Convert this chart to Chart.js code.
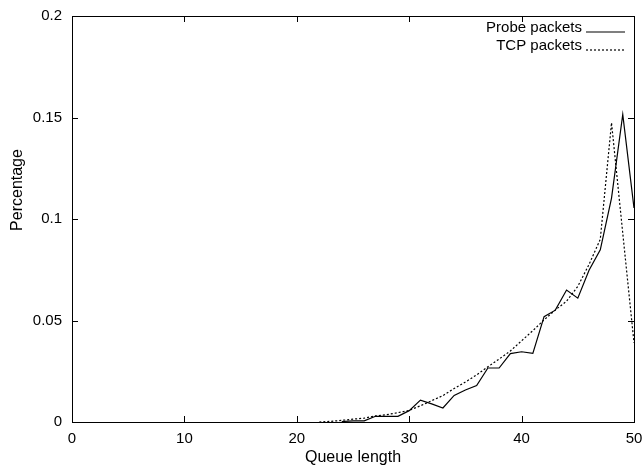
<!DOCTYPE html>
<html>
<head>
<meta charset="utf-8">
<script src="https://cdn.jsdelivr.net/npm/chart.js@4/dist/chart.umd.min.js"></script>
<style>
  html, body { margin: 0; padding: 0; background: #fff; }
  canvas { display: block; }
</style>
</head>
<body>
<canvas id="queue" width="643" height="467"></canvas>
<script>
// queue occupancy seen by each packet type
const queueLen = [22, 23, 24, 25, 26, 27, 28, 29, 30, 31, 32, 33, 34, 35, 36,
                  37, 38, 39, 40, 41, 42, 43, 44, 45, 46, 47, 48, 49, 50];
const probePkts = [null, null, 0.0002, 0.0006, 0.0006, 0.0028, 0.0028, 0.0028, 0.0056, 0.0108,
                   0.0089, 0.0069, 0.0131, 0.0158, 0.0180, 0.0266, 0.0266, 0.0337, 0.0346, 0.0338,
                   0.0519, 0.0551, 0.0650, 0.0610, 0.0748, 0.0848, 0.1103, 0.1515, 0.1054];
const tcpPkts = [0.0000, 0.0003, 0.0008, 0.0014, 0.0019, 0.0030, 0.0036, 0.0046, 0.0057, 0.0080,
                 0.0105, 0.0130, 0.0165, 0.0197, 0.0232, 0.0272, 0.0310, 0.0350, 0.0400, 0.0450,
                 0.0503, 0.0552, 0.0595, 0.0668, 0.0776, 0.0900, 0.1474, 0.0930, 0.0390];
const xTicks = [0, 10, 20, 30, 40, 50];
const yTicks = [0, 0.05, 0.1, 0.15, 0.2];
const seriesNames = ['Probe packets', 'TCP packets'];

const FONT = '"Liberation Sans", Arial, Helvetica, sans-serif';

const toPoints = vals => queueLen.map((q, i) => ({ x: q, y: vals[i] }));

// gnuplot style frame: box all round, ticks pointing inward on every side
const framePlugin = {
  id: 'frame',
  afterDraw(chart) {
    const { ctx, chartArea: a, scales } = chart;
    const len = 6;
    ctx.save();
    ctx.strokeStyle = '#000';
    ctx.lineWidth = 1;
    ctx.strokeRect(a.left + 0.5, a.top + 0.5, a.right - a.left, a.bottom - a.top);
    ctx.beginPath();
    xTicks.forEach(v => {
      const px = Math.round(scales.x.getPixelForValue(v)) + 0.5;
      ctx.moveTo(px, a.bottom); ctx.lineTo(px, a.bottom - len);
      ctx.moveTo(px, a.top); ctx.lineTo(px, a.top + len);
    });
    yTicks.forEach(v => {
      const py = Math.round(scales.y.getPixelForValue(v)) + 0.5;
      ctx.moveTo(a.left, py); ctx.lineTo(a.left + len, py);
      ctx.moveTo(a.right, py); ctx.lineTo(a.right - len, py);
    });
    ctx.stroke();

    // y axis label
    ctx.fillStyle = '#000';
    ctx.font = '16px ' + FONT;
    ctx.textAlign = 'center';
    ctx.textBaseline = 'middle';
    ctx.translate(18, 190);
    ctx.rotate(-Math.PI / 2);
    ctx.fillText('Percentage', 0, 0);
    ctx.restore();

    // key in the top right corner
    ctx.save();
    ctx.font = '15px ' + FONT;
    ctx.fillStyle = '#000';
    ctx.strokeStyle = '#000';
    ctx.textAlign = 'right';
    ctx.textBaseline = 'middle';
    seriesNames.forEach((name, i) => {
      const ty = 28 + i * 18;
      ctx.fillText(name, 582, ty);
      ctx.lineWidth = 1.2;
      ctx.setLineDash(i === 0 ? [] : [2, 2]);
      ctx.beginPath();
      ctx.moveTo(586, ty + 4);
      ctx.lineTo(625, ty + 4);
      ctx.stroke();
    });
    ctx.restore();
  }
};

new Chart(document.getElementById('queue'), {
  type: 'line',
  data: {
    datasets: [
      {
        label: seriesNames[0],
        data: toPoints(probePkts),
        borderColor: '#000',
        borderWidth: 1.2,
        pointRadius: 0,
        tension: 0,
        spanGaps: false,
      },
      {
        label: seriesNames[1],
        data: toPoints(tcpPkts),
        borderColor: '#000',
        borderWidth: 1.2,
        borderDash: [2, 2],
        pointRadius: 0,
        tension: 0,
      },
    ],
  },
  options: {
    responsive: false,
    animation: false,
    devicePixelRatio: 1,
    layout: { padding: { top: 16, right: 9, left: 0, bottom: 0 } },
    plugins: {
      legend: { display: false },
      tooltip: { enabled: false },
    },
    scales: {
      x: {
        type: 'linear',
        min: 0,
        max: 50,
        grid: { display: false, drawTicks: false },
        border: { display: false },
        afterBuildTicks: s => { s.ticks = xTicks.map(v => ({ value: v })); },
        afterFit: s => { s.height = 45; s.paddingLeft = 0; s.paddingRight = 0; },
        ticks: {
          color: '#000',
          font: { family: FONT, size: 15 },
          padding: 8,
          maxRotation: 0,
          callback: v => String(v),
        },
        title: {
          display: true,
          text: 'Queue length',
          color: '#000',
          font: { family: FONT, size: 16 },
          padding: { top: 0, bottom: 0 },
        },
      },
      y: {
        min: 0,
        max: 0.2,
        grid: { display: false, drawTicks: false },
        border: { display: false },
        afterBuildTicks: s => { s.ticks = yTicks.map(v => ({ value: v })); },
        afterFit: s => { s.width = 72; s.paddingTop = 0; s.paddingBottom = 0; },
        ticks: {
          color: '#000',
          font: { family: FONT, size: 15 },
          padding: 10,
          callback: v => String(+v.toFixed(2)),
        },
      },
    },
  },
  plugins: [framePlugin],
});
</script>
</body>
</html>
